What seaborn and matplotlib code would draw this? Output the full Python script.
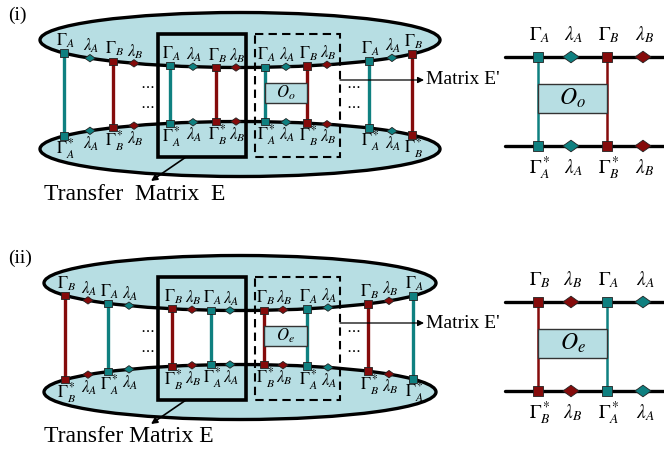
"""Ring MPS diagram: transfer matrices E and E' for odd/even bonds."""

import numpy as np
import matplotlib.pyplot as plt
import pandas as pd
import seaborn as sns
from matplotlib.patches import Ellipse, Rectangle
from matplotlib.path import Path

TEAL = "#0f8080"
RED = "#850b0b"
FILL = "#b7dee3"

# ---- ring nodes -------------------------------------------------------------
ring_kind = ["G", "L"] * 7 + ["G"]

ring_i_x = [64, 90, 113, 134, 170, 193, 216, 236, 265, 286, 307, 327, 369, 392, 412]
ring_i_site = ["A", "A", "B", "B"] * 3 + ["A", "A", "B"]
ring_i_top = [r"$\Gamma_A$", r"$\lambda_A$", r"$\Gamma_B$", r"$\lambda_B$"] * 3 + [
    r"$\Gamma_A$", r"$\lambda_A$", r"$\Gamma_B$"]
ring_i_bot = [r"$\Gamma^*_A$", r"$\lambda_A$", r"$\Gamma^*_B$", r"$\lambda_B$"] * 3 + [
    r"$\Gamma^*_A$", r"$\lambda_A$", r"$\Gamma^*_B$"]

ring_ii_x = [65, 88, 108, 129, 172, 192, 211, 230, 264, 283, 307, 328, 368, 389, 413]
ring_ii_site = ["B", "B", "A", "A"] * 3 + ["B", "B", "A"]
ring_ii_top = [r"$\Gamma_B$", r"$\lambda_A$", r"$\Gamma_A$", r"$\lambda_A$"] + [
    r"$\Gamma_B$", r"$\lambda_B$", r"$\Gamma_A$", r"$\lambda_A$"] * 2 + [
    r"$\Gamma_B$", r"$\lambda_B$", r"$\Gamma_A$"]
ring_ii_bot = [r"$\Gamma^*_B$", r"$\lambda_A$", r"$\Gamma^*_A$", r"$\lambda_A$"] + [
    r"$\Gamma^*_B$", r"$\lambda_B$", r"$\Gamma^*_A$", r"$\lambda_A$"] * 2 + [
    r"$\Gamma^*_B$", r"$\lambda_B$", r"$\Gamma^*_A$"]

# ---- zoomed E' nodes --------------------------------------------------------
zoom_kind = ["G", "L", "G", "L"]
zoom_x = [538, 571, 607, 643]
zoom_i_site = ["A", "A", "B", "B"]
zoom_i_top = [r"$\Gamma_A$", r"$\lambda_A$", r"$\Gamma_B$", r"$\lambda_B$"]
zoom_i_bot = [r"$\Gamma^*_A$", r"$\lambda_A$", r"$\Gamma^*_B$", r"$\lambda_B$"]
zoom_ii_site = ["B", "B", "A", "A"]
zoom_ii_top = [r"$\Gamma_B$", r"$\lambda_B$", r"$\Gamma_A$", r"$\lambda_A$"]
zoom_ii_bot = [r"$\Gamma^*_B$", r"$\lambda_B$", r"$\Gamma^*_A$", r"$\lambda_A$"]

PALETTE = {"A": TEAL, "B": RED}
DIAMOND = Path([(-1, 0), (0, 0.72), (1, 0), (0, -0.72), (-1, 0)],
               [Path.MOVETO, Path.LINETO, Path.LINETO, Path.LINETO, Path.CLOSEPOLY])


def _nodes(ax, xs, ys, sites, kinds, sq, dm):
    df = pd.DataFrame({"x": xs, "y": ys, "site": sites, "kind": kinds})
    sns.scatterplot(data=df, x="x", y="y", hue="site", style="kind", size="kind",
                    palette=PALETTE, markers={"G": "s", "L": DIAMOND},
                    sizes={"G": sq, "L": dm}, edgecolor="#222222", linewidth=0.6,
                    legend=False, zorder=5, ax=ax)


def draw_ring(ax, dy, rx, xs, sites, top_lab, bot_lab, o_label, tag, tm_text):
    cx, cy_top, cy_bot, ry = 240, 40 + dy, 149 + dy, 27.5
    for cy in (cy_top, cy_bot):
        ax.add_patch(Ellipse((cx, cy), 2 * rx, 2 * ry, facecolor=FILL,
                             edgecolor="black", lw=2.4, zorder=1))
    xs = np.asarray(xs, float)
    h = ry * np.sqrt(1 - ((xs - cx) / rx) ** 2)
    y_top, y_bot = cy_top + h, cy_bot - h
    for x, yt, yb, s, k in zip(xs, y_top, y_bot, sites, ring_kind):
        if k == "G":
            ax.plot([x, x], [yt, yb], color=PALETTE[s], lw=2.4, zorder=3)
    _nodes(ax, xs, y_top, sites, ring_kind, 28, 55)
    _nodes(ax, xs, y_bot, sites, ring_kind, 28, 55)
    for x, yt, yb, lt, lb in zip(xs, y_top, y_bot, top_lab, bot_lab):
        ax.text(x + 1, yt - 12, lt, fontsize=12, ha="center", va="center", zorder=6)
        ax.text(x + 1, yb + 13, lb, fontsize=12, ha="center", va="center", zorder=6)

    # transfer matrix E (solid) and E' (dashed)
    ax.add_patch(Rectangle((158, 34 + dy), 88, 123, fill=False, lw=2.6,
                           edgecolor="black", zorder=4))
    ax.add_patch(Rectangle((255, 34 + dy), 85, 123, fill=False, lw=1.5,
                           edgecolor="black", ls=(0, (4, 2.5)), zorder=4))
    ax.add_patch(Rectangle((xs[8], 83 + dy), xs[10] - xs[8], 20, facecolor=FILL,
                           edgecolor="#333333", lw=1.0, zorder=4))
    ax.text((xs[8] + xs[10]) / 2, 93 + dy, o_label, fontsize=12,
            ha="center", va="center", zorder=6)
    for dx in (147, 353):
        for yy in (86, 106):
            ax.text(dx, yy + dy, r"$\cdots$", fontsize=11, ha="center",
                    va="center", zorder=6)

    ax.annotate("", xy=(424, 80 + dy), xytext=(340, 80 + dy), zorder=6,
                arrowprops=dict(arrowstyle="-|>", lw=0.9, color="black",
                                mutation_scale=9, shrinkA=0, shrinkB=0))
    ax.text(426, 80 + dy, "Matrix E'", fontsize=14, ha="left", va="center")
    ax.annotate("", xy=(151, 181 + dy), xytext=(186, 157 + dy), zorder=6,
                arrowprops=dict(arrowstyle="-|>", lw=1.2, color="black",
                                mutation_scale=9, shrinkA=0, shrinkB=0))
    ax.text(44, 194 + dy, tm_text, fontsize=17, ha="left", va="center")
    ax.text(8, 15 + dy, tag, fontsize=14, ha="left", va="center")


def draw_zoom(ax, dy, sites, top_lab, bot_lab, o_label):
    y_top, y_bot = 57 + dy, 146 + dy
    for y in (y_top, y_bot):
        ax.plot([505, 664], [y, y], color="black", lw=2.4, zorder=2)
    for x, s, k in zip(zoom_x, sites, zoom_kind):
        if k == "G":
            ax.plot([x, x], [y_top, y_bot], color=PALETTE[s], lw=1.8, zorder=3)
    _nodes(ax, zoom_x, [y_top] * 4, sites, zoom_kind, 55, 135)
    _nodes(ax, zoom_x, [y_bot] * 4, sites, zoom_kind, 55, 135)
    ax.add_patch(Rectangle((zoom_x[0], 84 + dy), zoom_x[2] - zoom_x[0], 29,
                           facecolor=FILL, edgecolor="#333333", lw=1.0, zorder=4))
    ax.text((zoom_x[0] + zoom_x[2]) / 2, 98 + dy, o_label, fontsize=17,
            ha="center", va="center", zorder=6)
    for x, lt, lb in zip(zoom_x, top_lab, bot_lab):
        ax.text(x + 2, y_top - 22, lt, fontsize=14, ha="center", va="center")
        ax.text(x + 2, y_bot + 22, lb, fontsize=14, ha="center", va="center")


sns.set_theme(style="white")
plt.rcParams["font.family"] = ["Liberation Serif", "DejaVu Serif"]
plt.rcParams["mathtext.fontset"] = "stix"
plt.rcParams["text.color"] = "black"

fig = plt.figure(figsize=(6.64, 4.59), dpi=100)
ax = fig.add_axes([0, 0, 1, 1])

draw_ring(ax, 0, 200, ring_i_x, ring_i_site, ring_i_top, ring_i_bot,
          r"$O_o$", "(i)", "Transfer  Matrix  E")
draw_zoom(ax, 0, zoom_i_site, zoom_i_top, zoom_i_bot, r"$O_o$")
draw_ring(ax, 243, 196, ring_ii_x, ring_ii_site, ring_ii_top, ring_ii_bot,
          r"$O_e$", "(ii)", "Transfer Matrix E")
draw_zoom(ax, 245, zoom_ii_site, zoom_ii_top, zoom_ii_bot, r"$O_e$")

ax.set_xlim(0, 664)
ax.set_ylim(459, 0)
ax.axis("off")
fig.savefig("out.png", dpi=100)
